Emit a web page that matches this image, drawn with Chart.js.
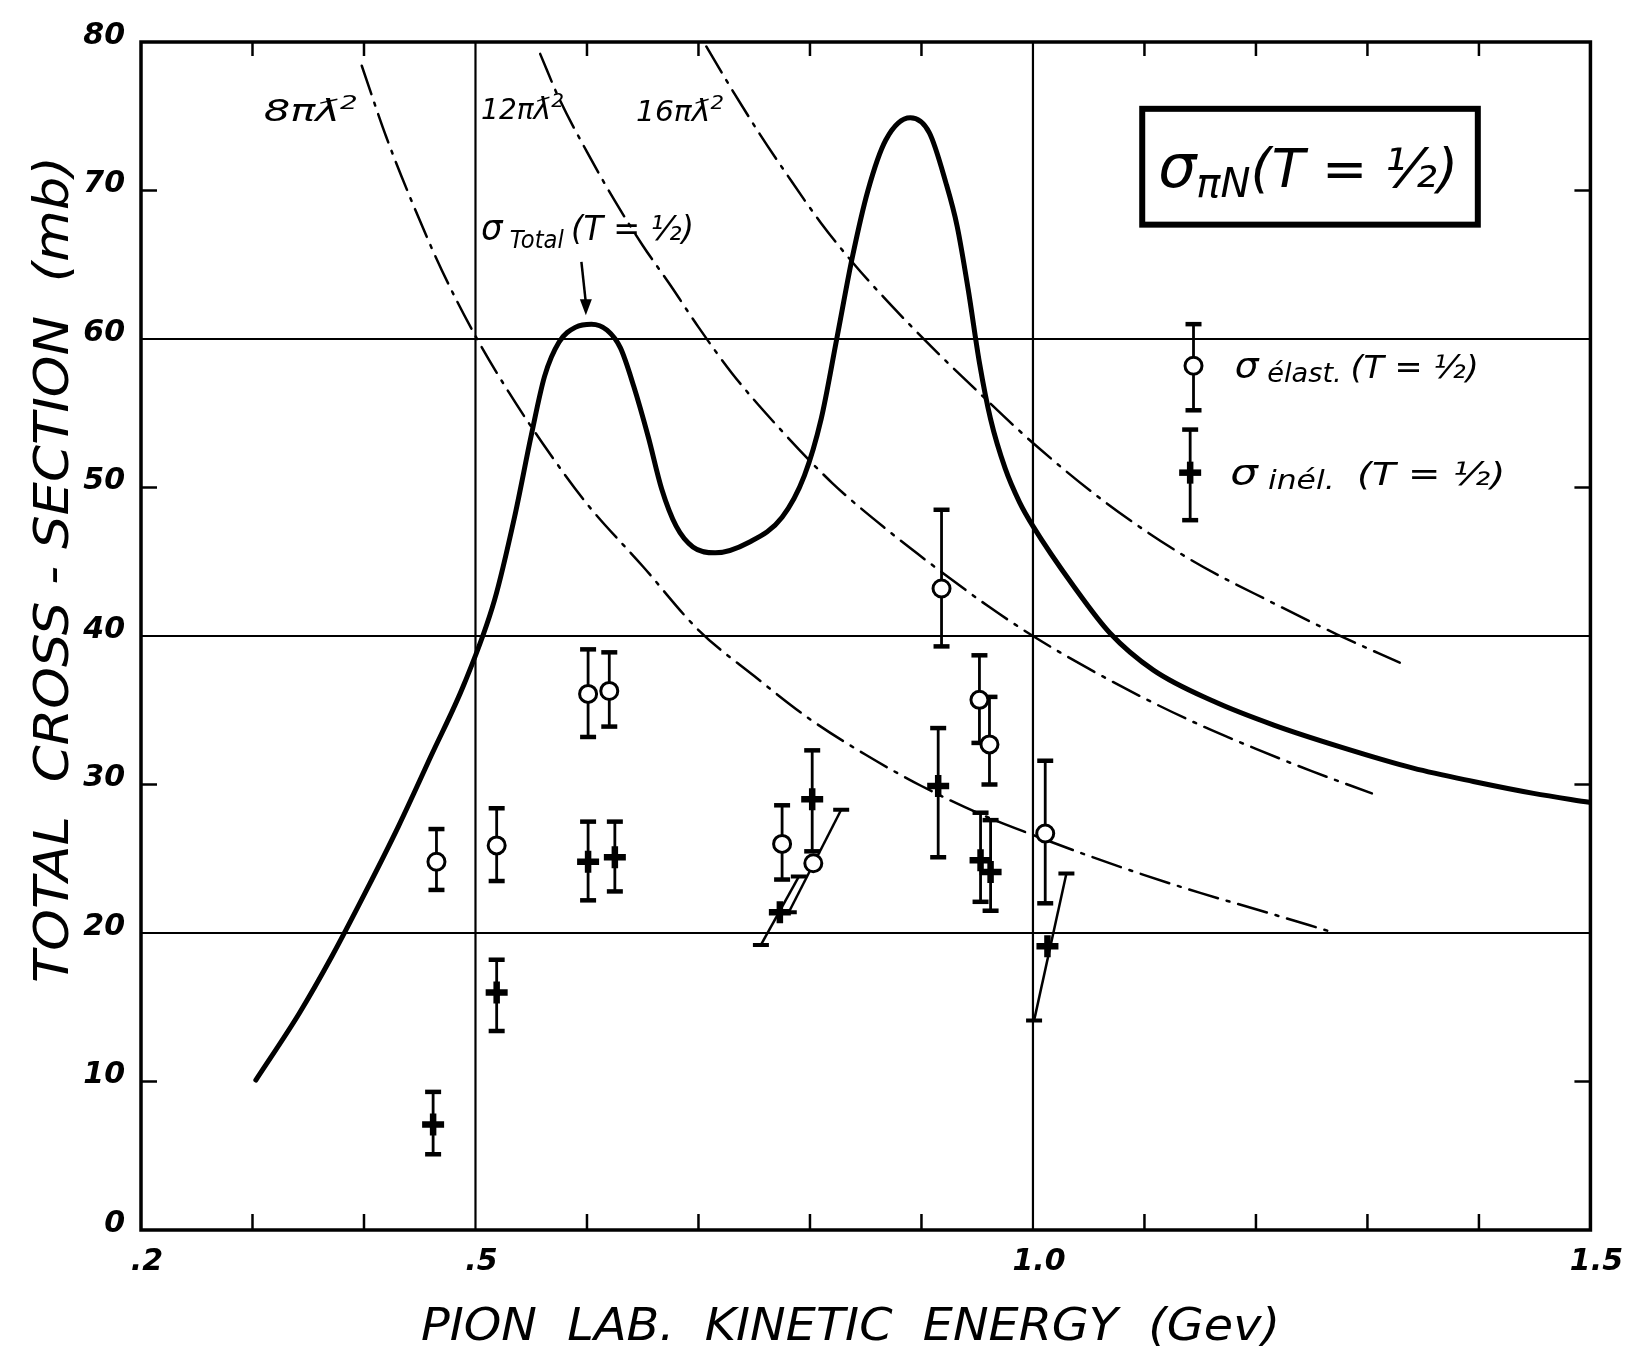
<!DOCTYPE html>
<html><head><meta charset="utf-8">
<script src="https://cdn.jsdelivr.net/npm/chart.js@4.4.0/dist/chart.umd.min.js"></script>
<style>html,body{margin:0;padding:0;background:#fff;}canvas{display:block;}</style>
</head><body>
<canvas id="c" width="1631" height="1354"></canvas>
<script>
// ---------- data ----------
const xTickValues = [0.2, 0.5, 1.0, 1.5];
const xTickLabels = ['.2', '.5', '1.0', '1.5'];
const yTickValues = [0, 10, 20, 30, 40, 50, 60, 70, 80];
const yTickLabels = ['0', '10', '20', '30', '40', '50', '60', '70', '80'];
const xGridValues = [0.5, 1.0];
const yGridValues = [20, 40, 60];
const xMinorTicks = [0.3, 0.4, 0.6, 0.7, 0.8, 0.9, 1.1, 1.2, 1.3, 1.4];
const yMinorTicks = [10, 30, 50, 70];

// sigma total (T=1/2), thick solid curve
const totalE = [0.303,0.342,0.371,0.401,0.431,0.460,0.490,0.517,0.535,0.550,0.562,0.575,0.590,0.604,0.618,0.630,0.642,0.655,0.667,0.680,0.695,0.715,0.745,0.775,0.795,0.810,0.824,0.838,0.852,0.868,0.890,0.907,0.922,0.932,0.942,0.952,0.962,0.975,0.988,1.000,1.037,1.069,1.108,1.162,1.216,1.277,1.341,1.395,1.449,1.499];
const totalSigma = [10.1,14.6,18.4,22.7,27.2,31.9,36.8,42.4,48.0,53.5,57.5,59.8,60.8,61.0,60.6,59.4,56.8,53.4,49.9,47.4,46.0,45.6,46.3,48.0,50.8,54.6,60.0,65.5,70.0,73.4,74.9,73.9,70.5,67.6,63.3,58.4,54.6,51.3,49.0,47.4,43.3,40.2,37.7,35.6,34.0,32.5,31.1,30.2,29.4,28.8];

// 8 pi lambda-bar^2
const lam8E = [0.398,0.420,0.446,0.470,0.500,0.530,0.560,0.600,0.650,0.700,0.750,0.800,0.850,0.900,0.950,1.000,1.050,1.100,1.150,1.200,1.271];
const lam8Sigma = [78.4,73.6,68.7,64.6,60.2,56.4,53.0,48.9,44.7,40.4,37.3,34.4,32.0,29.9,28.1,26.6,25.2,23.9,22.7,21.6,20.0];
// 12 pi lambda-bar^2
const lam12E = [0.558,0.575,0.600,0.625,0.650,0.675,0.700,0.730,0.770,0.820,0.870,0.920,0.960,1.000,1.050,1.100,1.150,1.200,1.250,1.304];
const lam12Sigma = [79.2,76.2,72.6,69.3,66.3,63.6,60.8,57.7,54.2,50.3,47.1,44.2,42.0,40.0,37.8,35.8,34.0,32.4,30.9,29.4];
// 16 pi lambda-bar^2
const lam16E = [0.707,0.730,0.755,0.780,0.810,0.840,0.870,0.910,0.950,1.000,1.065,1.140,1.216,1.273,1.329];
const lam16Sigma = [79.7,76.8,73.8,71.0,67.8,65.0,62.5,59.4,56.5,53.0,49.0,45.2,42.2,40.1,38.2];

// sigma elastic (open circles) with vertical error bars (null = slanted bar)
const elastE = [0.465,0.519,0.601,0.620,0.775,0.803,0.918,0.952,0.961,1.011];
const elastSigma = [24.8,25.9,36.1,36.3,26.0,24.7,43.2,35.7,32.7,26.7];
const elastLo = [22.9,23.5,33.2,33.9,23.6,null,39.3,32.8,30.0,22.0];
const elastHi = [27.0,28.4,39.1,38.9,28.6,null,48.5,38.7,35.9,31.6];

// sigma inelastic (crosses)
const inelE = [0.462,0.519,0.601,0.625,0.773,0.802,0.915,0.953,0.962,1.013];
const inelSigma = [7.1,16.0,24.8,25.1,21.4,29.0,29.9,24.9,24.1,19.1];
const inelLo = [5.1,13.4,22.2,22.8,null,25.5,25.1,22.1,21.5,null];
const inelHi = [9.3,18.2,27.5,27.5,null,32.3,33.8,28.1,27.6,null];

// slanted error bars: [E_low, E_high] and [sigma_low, sigma_high]
const slantE = [[0.781,0.828],[0.756,0.790],[1.001,1.030]];
const slantSigma = [[21.4,28.3],[19.2,23.8],[14.1,24.0]];

// legend sample positions (E, sigma, low, high)
const legendElast = [1.144, 58.2, 55.2, 61.0];
const legendInel = [1.141, 51.0, 47.8, 53.9];

// ---------- chart ----------
const pts = (xs, ys) => xs.map((x, i) => ({x, y: ys[i]}));
const DASHDOT = [30, 9, 3, 9];
const FONT = 'DejaVu Sans';

const datasets = [];
datasets.push({label:'elast', data: pts(elastE, elastSigma), showLine:false,
  pointStyle:'circle', pointRadius:8.5, pointBorderWidth:3, pointBackgroundColor:'#fff',
  pointBorderColor:'#000', borderColor:'#000', errLo: elastLo, errHi: elastHi, order:0});
datasets.push({label:'inel', data: pts(inelE, inelSigma), showLine:false,
  pointStyle:'cross', pointRadius:11, pointBorderWidth:6.5, pointBorderColor:'#000',
  borderColor:'#000', errLo: inelLo, errHi: inelHi, order:0});
slantE.forEach((es, k) => {
  datasets.push({label:'slant'+k, data: pts(es, slantSigma[k]), borderColor:'#000', borderWidth:2.5,
    pointStyle:'line', pointRadius:8, pointBorderWidth:4, pointBorderColor:'#000', order:1});
});
const curve = (label, xs, ys, w, dash) => ({label, data: pts(xs, ys), borderColor:'#000',
  borderWidth:w, borderDash:dash, pointRadius:0, fill:false, cubicInterpolationMode:'monotone',
  borderCapStyle:'round', order:5});
datasets.push(curve('total', totalE, totalSigma, 5, []));
datasets.push(curve('8pi', lam8E, lam8Sigma, 2.5, DASHDOT));
datasets.push(curve('12pi', lam12E, lam12Sigma, 2.5, DASHDOT));
datasets.push(curve('16pi', lam16E, lam16Sigma, 2.5, DASHDOT));

const near = (a, b) => Math.abs(a - b) < 1e-6;
const idxOf = (arr, v) => arr.findIndex(t => near(t, v));

function line(ctx, x1, y1, x2, y2){ ctx.beginPath(); ctx.moveTo(x1, y1); ctx.lineTo(x2, y2); ctx.stroke(); }

// draw runs of text [{t,size,dy,bold}] starting at x (left), baseline y, stretched to width w
function drawRuns(ctx, runs, x, y, w){
  let tot = 0;
  runs.forEach(r => { ctx.font = `italic ${r.bold?'bold ':''}${r.size}px "${FONT}"`; r.w = ctx.measureText(r.t).width; tot += r.w; });
  const sx = w ? w / tot : 1;
  ctx.save(); ctx.translate(x, y); ctx.scale(sx, 1);
  let cx = 0;
  runs.forEach(r => { ctx.font = `italic ${r.bold?'bold ':''}${r.size}px "${FONT}"`; ctx.textAlign='left'; ctx.textBaseline='alphabetic'; ctx.fillText(r.t, cx, r.dy || 0); cx += r.w; });
  ctx.restore();
}

const decor = {
  id: 'decor',
  beforeDatasetsDraw(chart){
    const {ctx, chartArea: a, scales: {x, y}} = chart;
    ctx.save();
    ctx.strokeStyle = '#000';
    ctx.lineWidth = 2.2;
    xGridValues.forEach(v => { const px = x.getPixelForValue(v); line(ctx, px, a.top, px, a.bottom); });
    yGridValues.forEach(v => { const py = y.getPixelForValue(v); line(ctx, a.left, py, a.right, py); });
    chart.data.datasets.forEach(ds => {
      if (!ds.errLo) return;
      ds.data.forEach((p, i) => {
        const lo = ds.errLo[i], hi = ds.errHi[i];
        if (lo == null) return;
        const px = x.getPixelForValue(p.x), pl = y.getPixelForValue(lo), ph = y.getPixelForValue(hi);
        ctx.lineWidth = 2.8; line(ctx, px, pl, px, ph);
        ctx.lineWidth = 4.5; line(ctx, px - 8, pl, px + 8, pl); line(ctx, px - 8, ph, px + 8, ph);
      });
    });
    ctx.restore();
  },
  afterDraw(chart){
    const {ctx, chartArea: a, scales: {x, y}} = chart;
    ctx.save();
    ctx.strokeStyle = '#000'; ctx.fillStyle = '#000';
    ctx.lineWidth = 3.5;
    ctx.strokeRect(a.left, a.top, a.right - a.left, a.bottom - a.top);
    ctx.lineWidth = 2.5;
    xMinorTicks.forEach(v => { const px = x.getPixelForValue(v);
      line(ctx, px, a.bottom, px, a.bottom - 16); line(ctx, px, a.top, px, a.top + 14); });
    yMinorTicks.forEach(v => { const py = y.getPixelForValue(v);
      line(ctx, a.left, py, a.left + 16, py); line(ctx, a.right, py, a.right - 16, py); });

    const X = v => x.getPixelForValue(v), Y = v => y.getPixelForValue(v);
    drawRuns(ctx, [{t:'8π', size:30}, {t:'ƛ', size:30}, {t:'2', size:20, dy:-12}], X(0.310), Y(74.7), 94);
    drawRuns(ctx, [{t:'12π', size:28}, {t:'ƛ', size:30}, {t:'2', size:20, dy:-12}], X(0.505), Y(74.8), 83);
    drawRuns(ctx, [{t:'16π', size:28}, {t:'ƛ', size:30}, {t:'2', size:20, dy:-12}], X(0.644), Y(74.7), 88);
    drawRuns(ctx, [{t:'σ', size:36}, {t:' Total ', size:24, dy:8}, {t:'(T = ½)', size:34}], X(0.505), Y(66.7), 213);
    ctx.lineWidth = 2.5;
    const ax = X(0.595), ay1 = Y(65.2), ax2 = X(0.599), ay2 = Y(61.6);
    line(ctx, ax, ay1, ax2, ay2 - 12);
    ctx.beginPath(); ctx.moveTo(ax2 - 6, ay2 - 16); ctx.lineTo(ax2 + 6, ay2 - 16); ctx.lineTo(ax2, ay2); ctx.closePath(); ctx.fill();

    ctx.lineWidth = 6;
    const bx1 = X(1.098), bx2 = X(1.399), by1 = Y(75.5), by2 = Y(67.7);
    ctx.strokeRect(bx1, by1, bx2 - bx1, by2 - by1);
    drawRuns(ctx, [{t:'σ', size:60}, {t:'πN', size:40, dy:10}, {t:'(T = ½)', size:54}], bx1 + 16, (by1 + by2) / 2 + 20, 300);

    const glyph = (e, s, lo, hi, kind) => {
      const px = X(e), py = Y(s), pl = Y(lo), ph = Y(hi);
      ctx.lineWidth = 2.8; line(ctx, px, pl, px, ph);
      ctx.lineWidth = 4.5; line(ctx, px - 8, pl, px + 8, pl); line(ctx, px - 8, ph, px + 8, ph);
      if (kind === 'o') { ctx.beginPath(); ctx.arc(px, py, 8.5, 0, Math.PI * 2); ctx.fillStyle = '#fff'; ctx.fill(); ctx.lineWidth = 3; ctx.stroke(); ctx.fillStyle = '#000'; }
      else { ctx.lineWidth = 6.5; line(ctx, px - 11, py, px + 11, py); line(ctx, px, py - 11, px, py + 11); }
    };
    glyph(legendElast[0], legendElast[1], legendElast[2], legendElast[3], 'o');
    glyph(legendInel[0], legendInel[1], legendInel[2], legendInel[3], '+');
    drawRuns(ctx, [{t:'σ', size:36}, {t:' élast. ', size:26, dy:4}, {t:'(T = ½)', size:32}], X(1.181), Y(legendElast[1]) + 12, 244);
    drawRuns(ctx, [{t:'σ', size:36}, {t:' inél. ', size:26, dy:4}, {t:' (T = ½)', size:32}], X(1.177), Y(legendInel[1]) + 12, 275);

    drawRuns(ctx, [{t:'PION  LAB.  KINETIC  ENERGY  (Gev)', size:44}], 421, 1340, 859);
    ctx.save();
    ctx.translate(68, 983); ctx.rotate(-Math.PI / 2);
    drawRuns(ctx, [{t:'TOTAL  CROSS - SECTION  (mb)', size:48}], 0, 0, 827);
    ctx.restore();
    ctx.restore();
  }
};

new Chart(document.getElementById('c'), {
  type: 'line',
  data: { datasets },
  options: {
    responsive: false, animation: false, devicePixelRatio: 1,
    layout: { padding: { left: 0, right: 30, top: 42, bottom: 0 } },
    plugins: { legend: { display: false }, tooltip: { enabled: false } },
    scales: {
      x: { type: 'linear', min: 0.2, max: 1.5,
        afterFit: s => { s.height = 124; },
        grid: { display: false, drawTicks: false },
        border: { display: false },
        ticks: { stepSize: 0.1, autoSkip: false, maxRotation: 0, padding: 14, labelOffset: 6, color: '#000',
          font: { family: FONT, size: 30, style: 'italic', weight: 'bold' },
          callback: v => { const i = idxOf(xTickValues, v); return i >= 0 ? xTickLabels[i] : ''; } } },
      y: { type: 'linear', min: 0, max: 80,
        afterFit: s => { s.width = 141; },
        grid: { display: false, drawTicks: false },
        border: { display: false },
        ticks: { stepSize: 10, padding: 16, labelOffset: -6, color: '#000',
          font: { family: FONT, size: 30, style: 'italic', weight: 'bold' },
          callback: v => { const i = idxOf(yTickValues, v); return i >= 0 ? yTickLabels[i] : ''; } } }
    }
  },
  plugins: [decor]
});
</script>
</body></html>
